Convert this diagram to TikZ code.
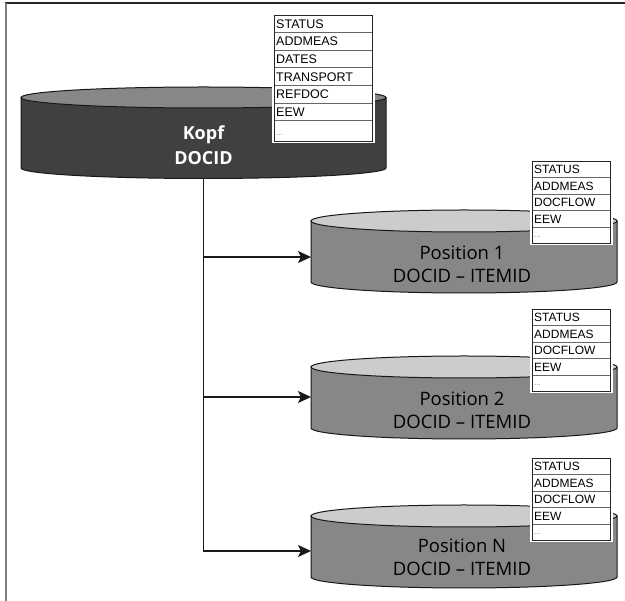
\documentclass[tikz,border=0pt]{standalone}
\usepackage{fontspec}
\newfontfamily\labelfont[Ligatures=TeX]{Open Sans}
\newfontfamily\tabfont{Liberation Sans}
\usetikzlibrary{arrows.meta}
\tikzset{
  cylline/.style={draw=black!90, line width=1},
  conn/.style={draw=black!90, line width=1.5},
  arrowconn/.style={conn, -{Stealth[length=13, width=12, inset=3]}},
  tabline/.style={draw=black!85, line width=0.9},
  rowline/.style={draw=black!60, line width=0.9},
  kopftext/.style={align=center, text=white, font=\labelfont\bfseries\fontsize{18}{25}\selectfont, inner sep=0},
  postext/.style={align=center, text=black, font=\labelfont\fontsize{18.5}{23}\selectfont, inner sep=0},
  dotstext/.style={anchor=base west, inner sep=0, text=black!45, font=\tabfont\fontsize{8}{8}\selectfont},
}
% cylinder: cx, cy(top), rx, ry, height, body colour, top colour
\newcommand\mycyl[7]{%
  \fill[#6] (#1-#3,#2) -- (#1-#3,#2+#5) arc[start angle=180, end angle=0, x radius=#3, y radius=#4] -- (#1+#3,#2) -- cycle;
  \draw[cylline] (#1-#3,#2) -- (#1-#3,#2+#5) arc[start angle=180, end angle=0, x radius=#3, y radius=#4] -- (#1+#3,#2);
  \filldraw[fill=#7, cylline] (#1,#2) ellipse[x radius=#3, y radius=#4];
}
% table: name, x, ytop, width, row height, ybottom, font size, rows
\newcommand\mytab[8]{%
  \fill[white] (#2-2,#3-2) rectangle (#2+#4+2.5,#6+2.5);
  \foreach \t [count=\i] in {#8} {
    \node[anchor=base west, inner sep=0, text=black, font=\tabfont\fontsize{#7}{#7}\selectfont] (#1-\i) at (#2+2, #3+\i*#5-#5+0.76*#5) {\t};
    \draw[rowline] (#2, #3+\i*#5) -- (#2+#4, #3+\i*#5);
  }
  \node[dotstext] (#1-dots) at (#2+2, #6-5) {...};
  \draw[tabline] (#2,#3) rectangle (#2+#4,#6);
}
\begin{document}
\begin{tikzpicture}[x=1pt, y=-1pt]
\useasboundingbox (0,0) rectangle (625,601);
\fill[white] (0,0) rectangle (625,601);
% frame
\draw[line width=1.5, black!85] (4.5,3) -- (625,3);
\draw[line width=2, black!50] (5.5,3) -- (5.5,601);

% Kopf
\mycyl{203.5}{97.5}{182.5}{10.5}{70.5}{black!75}{black!47}
\node[kopftext] (kopf) at (203.5,145.5) {Kopf\\DOCID};
\coordinate (kb) at (203.5,178.5);
\mytab{kt}{274}{15}{98}{17.6}{141}{12.5}{STATUS,ADDMEAS,DATES,TRANSPORT,REFDOC,EEW}

% Positions
\mycyl{464}{221}{153}{11}{61}{black!47}{black!20}
\node[postext] (p1) at (462,264.5) {Position 1\\DOCID – ITEMID};
\coordinate (p1w) at (311,257);
\mytab{t1}{532}{161}{78}{16.5}{243}{12}{STATUS,ADDMEAS,DOCFLOW,EEW}

\mycyl{464}{367}{153}{11}{61}{black!47}{black!20}
\node[postext] (p2) at (462,410) {Position 2\\DOCID – ITEMID};
\coordinate (p2w) at (311,397);
\mytab{t2}{532}{309}{78}{16.5}{391}{12}{STATUS,ADDMEAS,DOCFLOW,EEW}

\mycyl{464}{516}{153}{11}{61}{black!47}{black!20}
\node[postext] (p3) at (462,557) {Position N\\DOCID – ITEMID};
\coordinate (p3w) at (311,551);
\mytab{t3}{532}{458}{78}{16.5}{540}{12}{STATUS,ADDMEAS,DOCFLOW,EEW}

% connectors
\coordinate (j1) at (203.5,257);
\coordinate (j2) at (203.5,397);
\draw[arrowconn] (kb) |- (p3w);
\draw[arrowconn] (j1) -- (p1w);
\draw[arrowconn] (j2) -- (p2w);
\end{tikzpicture}
\end{document}
